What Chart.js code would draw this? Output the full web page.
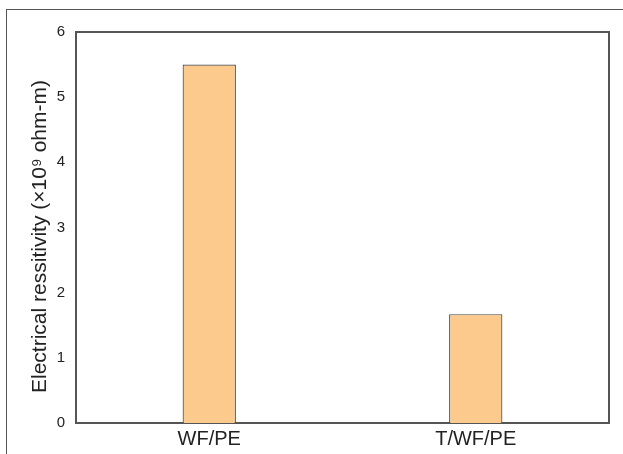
<!DOCTYPE html>
<html>
<head>
<meta charset="utf-8">
<script src="https://cdn.jsdelivr.net/npm/chart.js@4"></script>
<style>
  html, body { margin: 0; padding: 0; background: #fff; }
  #wrap { position: relative; width: 623px; height: 454px; overflow: hidden; }
  #frame { position: absolute; left: 6px; top: 9px; right: -2px; bottom: -2px;
           border-left: 1px solid #555; border-top: 1px solid #555; }
  canvas { position: absolute; left: 0; top: 0; }
</style>
</head>
<body>
<div id="wrap">
  <div id="frame"></div>
  <canvas id="c" width="623" height="454"></canvas>
</div>
<script>
// Samples and their measured resistivity (×10^9 ohm-m)
const categories = ['WF/PE', 'T/WF/PE'];
const resistivity = [5.5, 1.67];
const yTicks = [0, 1, 2, 3, 4, 5, 6];
const yTitle = 'Electrical ressitivity (×10⁹ ohm-m)';

const FONT = '"Liberation Sans", Arial, sans-serif';

// Close the plot box on the top and right sides, and write the y-axis title
const boxPlugin = {
  id: 'box',
  afterDraw(chart) {
    const { ctx, chartArea: a } = chart;
    ctx.save();
    ctx.strokeStyle = '#555';
    ctx.lineWidth = 2;
    ctx.beginPath();
    ctx.moveTo(a.left, a.top);
    ctx.lineTo(a.right, a.top);
    ctx.lineTo(a.right, a.bottom);
    ctx.stroke();

    // y title, rotated, sitting slightly below the axis midpoint
    ctx.translate(40, (a.top + a.bottom) / 2 + 9);
    ctx.rotate(-Math.PI / 2);
    ctx.fillStyle = '#222';
    ctx.font = '21px ' + FONT;
    ctx.textAlign = 'center';
    ctx.textBaseline = 'middle';
    ctx.fillText(yTitle, 0, 0);
    ctx.restore();
  }
};

new Chart(document.getElementById('c'), {
  type: 'bar',
  data: {
    labels: categories,
    datasets: [{
      data: resistivity,
      backgroundColor: '#FDCA8E',
      borderColor: '#4a4a4a',
      borderWidth: 1.2,
      barPercentage: 0.2,
      categoryPercentage: 1.0
    }]
  },
  options: {
    responsive: false,
    animation: false,
    layout: { padding: { top: 32, right: 14, left: 0, bottom: 0 } },
    plugins: { legend: { display: false }, tooltip: { enabled: false } },
    scales: {
      x: {
        grid: { display: false, drawTicks: false },
        border: { display: true, color: '#555', width: 2 },
        ticks: { color: '#222', font: { family: FONT, size: 20 }, padding: 4 },
        afterFit(s) { s.height = 31; }
      },
      y: {
        min: 0,
        max: 6,
        afterBuildTicks(s) { s.ticks = yTicks.map(v => ({ value: v })); },
        grid: { display: false, drawTicks: false },
        border: { display: true, color: '#555', width: 2 },
        ticks: { color: '#222', font: { family: FONT, size: 15 }, padding: 11 },
        afterFit(s) { s.width = 76; }
      }
    }
  },
  plugins: [boxPlugin]
});
</script>
</body>
</html>
